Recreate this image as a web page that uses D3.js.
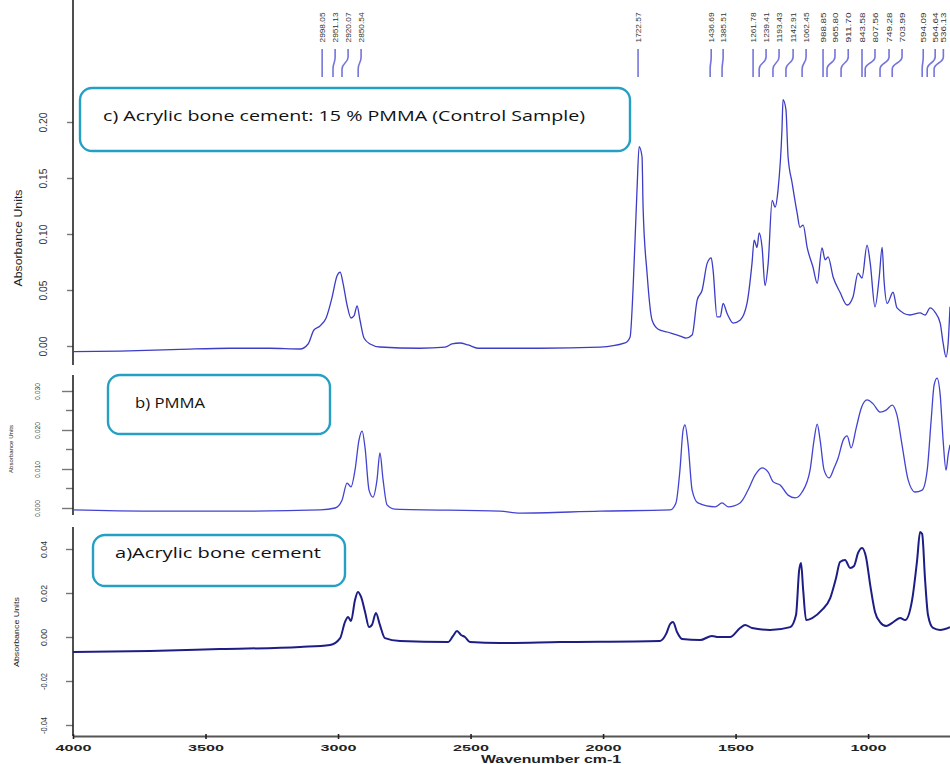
<!DOCTYPE html>
<html>
<head>
<meta charset="utf-8">
<script src="https://cdn.jsdelivr.net/npm/d3@7"></script>
<style>
  body { margin: 0; background: #fff; }
  svg { display: block; }
</style>
</head>
<body>
<div id="chart"></div>
<script>

// spectra as [wavenumber, absorbance]
var spectrumC = [
  [4000,-0.005],[3823,-0.0045],[3596,-0.003],[3408,-0.002],[3257,-0.002],[3143,-0.0027],[3113,0.0018],
  [3091,0.0143],[3068,0.0179],[3045,0.025],[3023,0.043],[3004,0.0625],[2992,0.066],[2981,0.056],
  [2966,0.0366],[2951,0.025],[2940,0.0268],[2928,0.0357],[2917,0.023],[2902,0.0071],[2879,0.0018],
  [2842,-0.0009],[2691,-0.002],[2596,-0.001],[2570,0.0018],[2540,0.0027],[2509,0.0009],[2472,-0.002],
  [2238,-0.002],[2011,-0.001],[1917,0.0027],[1898,0.008],[1887,0.05],[1872,0.139],[1864,0.178],
  [1853,0.169],[1849,0.124],[1834,0.065],[1815,0.023],[1792,0.015],[1758,0.0125],[1709,0.0089],
  [1687,0.0071],[1664,0.0098],[1645,0.041],[1626,0.05],[1607,0.074],[1592,0.0786],[1585,0.068],
  [1570,0.026],[1558,0.026],[1547,0.038],[1532,0.029],[1509,0.0205],[1483,0.023],[1457,0.038],
  [1438,0.074],[1430,0.0946],[1419,0.088],[1411,0.101],[1400,0.088],[1389,0.054],[1377,0.074],
  [1362,0.130],[1351,0.124],[1340,0.139],[1325,0.193],[1321,0.220],[1310,0.211],[1302,0.169],
  [1287,0.146],[1268,0.119],[1257,0.106],[1245,0.108],[1230,0.088],[1208,0.0705],[1192,0.056],
  [1174,0.0875],[1162,0.077],[1151,0.0795],[1132,0.0616],[1106,0.048],[1079,0.0366],[1057,0.0438],
  [1038,0.065],[1023,0.0607],[1004,0.090],[992,0.074],[974,0.035],[958,0.0616],[947,0.088],
  [940,0.059],[928,0.038],[906,0.048],[891,0.034],[842,0.0277],[804,0.0295],[785,0.0277],
  [766,0.034],[747,0.030],[728,0.0205],[717,0.0027],[706,-0.0098],[698,0.0027],[691,0.035]
];

var spectrumB = [
  [4000,-0.0005],[3709,-0.0008],[3332,-0.0008],[3068,-0.0005],[3011,0.0],[2985,0.002],[2966,0.0064],
  [2951,0.0054],[2936,0.0097],[2921,0.0174],[2909,0.0197],[2898,0.0154],[2883,0.0046],[2868,0.0028],
  [2853,0.0072],[2842,0.0141],[2830,0.0072],[2815,0.0008],[2785,-0.0003],[2389,-0.0008],[2313,-0.0013],
  [2011,-0.0008],[1747,-0.0005],[1725,0.0013],[1710,0.0097],[1698,0.020],[1691,0.0213],[1679,0.0162],
  [1664,0.0046],[1642,0.0013],[1577,0.0003],[1551,0.0013],[1528,0.0003],[1483,0.0013],[1453,0.0046],
  [1426,0.0085],[1400,0.0103],[1377,0.0092],[1358,0.0067],[1332,0.0059],[1302,0.0033],[1275,0.0026],
  [1249,0.0041],[1219,0.0097],[1204,0.0174],[1192,0.0215],[1181,0.0174],[1166,0.0097],[1147,0.0077],
  [1128,0.0103],[1113,0.0128],[1094,0.0174],[1079,0.0185],[1064,0.0154],[1045,0.0205],[1026,0.0256],
  [1004,0.0277],[981,0.0267],[955,0.0246],[932,0.0251],[909,0.0264],[891,0.0238],[872,0.0162],
  [849,0.0072],[823,0.0041],[796,0.0046],[777,0.0097],[762,0.0226],[751,0.0315],[740,0.0333],
  [728,0.029],[717,0.0174],[706,0.0097],[698,0.0136],[691,0.0162]
];

var spectrumA = [
  [4000,-0.0068],[3709,-0.0064],[3445,-0.0055],[3143,-0.0045],[3030,-0.0036],[2992,-0.0005],[2974,0.0068],
  [2962,0.0091],[2951,0.0073],[2936,0.0168],[2925,0.0205],[2913,0.0182],[2898,0.0114],[2883,0.0045],
  [2872,0.0055],[2857,0.0109],[2842,0.0055],[2823,-0.0005],[2766,-0.0018],[2585,-0.0023],[2566,0.0005],
  [2551,0.0027],[2536,0.0009],[2521,0.0],[2502,-0.0023],[2389,-0.0027],[2162,-0.0023],[1785,-0.0018],
  [1762,0.0014],[1747,0.0059],[1736,0.0068],[1721,0.0023],[1702,-0.0009],[1634,-0.0014],[1589,0.0005],
  [1566,0.0],[1521,0.0],[1483,0.0041],[1464,0.0055],[1438,0.0041],[1370,0.0032],[1294,0.0045],
  [1272,0.010],[1260,0.0305],[1253,0.0336],[1245,0.0214],[1234,0.0077],[1211,0.0086],[1174,0.0123],
  [1143,0.0177],[1121,0.0268],[1106,0.0341],[1087,0.035],[1068,0.0314],[1053,0.0323],[1038,0.0382],
  [1023,0.0405],[1008,0.0364],[992,0.0236],[974,0.0114],[955,0.0068],[932,0.005],[909,0.0064],
  [879,0.0086],[860,0.0077],[834,0.0168],[815,0.035],[804,0.0477],[796,0.0468],[785,0.0259],
  [774,0.010],[755,0.0041],[728,0.0032],[691,0.0045]
];

// peak annotations above spectrum c (text, label position, peak position on the axis)
var peakText = ["2998.05","2951.13","2920.07","2850.54","1722.57",
  "1436.69","1385.51","1261.78","1239.41","1193.43","1142.91","1062.45",
  "988.85","965.80","911.70","843.58","807.56","749.28","703.99",
  "594.09","564.64","536.13"];
var peakLabelAt = [3060,3011,2962,2913,1868,
  1592,1547,1434,1385,1336,1283,1234,
  1170,1125,1075,1023,974,921,872,
  792,747,716];
var peakAt = [3060,3019,2985,2924,1868,
  1596,1551,1434,1411,1359,1310,1249,
  1170,1155,1102,1023,1011,955,909,
  796,777,751];

var xTicks = [4000, 3500, 3000, 2500, 2000, 1500, 1000];
var cTicks = [0, 0.05, 0.10, 0.15, 0.20];
var bTicks = [0, 0.010, 0.020, 0.030];
var bMinor = [0.005, 0.015, 0.025];
var aTicks = [-0.04, -0.02, 0, 0.02, 0.04];

var boxLabels = ["c) Acrylic bone cement: 15 % PMMA (Control Sample)", "b) PMMA", "a)Acrylic bone cement"];

var width = 950, height = 764;

var svg = d3.select("#chart").append("svg")
  .attr("width", width)
  .attr("height", height)
  .style("font-family", "'Liberation Sans', Arial, sans-serif");

var x = d3.scaleLinear().domain([4000, 691]).range([73, 950]);

var panels = [
  { data: spectrumC, y: d3.scaleLinear().domain([0, 0.2]).range([346, 122]), top: 0, bottom: 365,
    ticks: cTicks, minor: [], fmt: d3.format(".2f"), tick: 6, off: 26, fs: 10, len: 20,
    color: "#3c3cc6", sw: 1.3, title: { x: 18, y: 238, fs: 10, len: 97 } },
  { data: spectrumB, y: d3.scaleLinear().domain([0, 0.03]).range([508, 391]), top: 375, bottom: 515,
    ticks: bTicks, minor: bMinor, fmt: d3.format(".3f"), tick: 11, off: 33, fs: 7, len: 17,
    color: "#4343d2", sw: 1.3, title: { x: 11, y: 449, fs: 6, len: 48 } },
  { data: spectrumA, y: d3.scaleLinear().domain([-0.04, 0.04]).range([725, 549]), top: 527, bottom: 736,
    ticks: aTicks, minor: [], fmt: function(v) { return d3.format(".2f")(v).replace("\u2212", "-"); },
    tick: 7, off: 26, fs: 9, len: 17, color: "#1d1d86", sw: 2, title: { x: 16, y: 632, fs: 8, len: 70 } }
];

panels.forEach(function(p, i) {
  svg.append("defs").append("clipPath")
    .attr("id", "clip" + i)
    .append("rect")
    .attr("x", 73).attr("y", p.top)
    .attr("width", width - 73).attr("height", p.bottom - p.top);

  var g = svg.append("g").attr("transform", "translate(73,0)");
  var axis = d3.axisLeft(p.y).tickValues(p.ticks).tickSize(p.tick).tickFormat(p.fmt);
  g.call(axis);
  g.select(".domain").remove();
  g.selectAll(".tick line").attr("stroke", "#777").attr("stroke-width", 1.4);
  g.selectAll(".tick text")
    .attr("transform", "rotate(-90)")
    .attr("x", 0).attr("y", -p.off).attr("dy", 0)
    .attr("text-anchor", "middle")
    .attr("textLength", p.len).attr("lengthAdjust", "spacingAndGlyphs")
    .style("font-size", p.fs + "px")
    .attr("fill", "#333");

  if (p.minor.length) {
    g.selectAll(".minor").data(p.minor).enter().append("line")
      .attr("x1", -7).attr("x2", 0)
      .attr("y1", function(d) { return p.y(d); })
      .attr("y2", function(d) { return p.y(d); })
      .attr("stroke", "#777").attr("stroke-width", 1.4);
  }

  // panel's own vertical axis line
  svg.append("line")
    .attr("x1", 73).attr("x2", 73)
    .attr("y1", p.top).attr("y2", p.bottom)
    .attr("stroke", "#222").attr("stroke-width", 1.6);

  svg.append("text")
    .attr("transform", "translate(" + p.title.x + "," + p.title.y + ") rotate(-90)")
    .attr("text-anchor", "middle")
    .attr("dy", "0.35em")
    .attr("textLength", p.title.len).attr("lengthAdjust", "spacingAndGlyphs")
    .style("font-size", p.title.fs + "px")
    .attr("fill", "#222")
    .text("Absorbance Units");

  var line = d3.line()
    .curve(d3.curveMonotoneX)
    .x(function(d) { return x(d[0]); })
    .y(function(d) { return p.y(d[1]); });

  svg.append("path")
    .datum(p.data)
    .attr("clip-path", "url(#clip" + i + ")")
    .attr("fill", "none")
    .attr("stroke", p.color)
    .attr("stroke-width", p.sw)
    .attr("stroke-linejoin", "round")
    .attr("d", line);
});

// bottom wavenumber axis
var xg = svg.append("g")
  .attr("transform", "translate(0,736)")
  .call(d3.axisBottom(x).tickValues(xTicks).tickFormat(d3.format("d"))
    .tickSizeInner(3).tickSizeOuter(0).tickPadding(6));
xg.select(".domain").attr("stroke", "#555").attr("stroke-width", 2.2);
xg.selectAll(".tick line").attr("stroke", "#222").attr("stroke-width", 1.6).attr("y1", -2);
xg.selectAll(".tick text")
  .style("font-size", "9px").style("font-weight", "bold")
  .attr("fill", "#222")
  .attr("textLength", 36).attr("lengthAdjust", "spacingAndGlyphs");

svg.append("text")
  .attr("x", 551).attr("y", 763)
  .attr("text-anchor", "middle")
  .attr("textLength", 140).attr("lengthAdjust", "spacingAndGlyphs")
  .style("font-size", "11px").style("font-weight", "bold")
  .attr("fill", "#222")
  .text("Wavenumber cm-1");

// peak pick labels
var peaks = svg.append("g").attr("clip-path", "url(#clip0)");
peakText.forEach(function(t, i) {
  var tx = x(peakLabelAt[i]), bx = x(peakAt[i]);
  peaks.append("path")
    .attr("d", "M" + tx + ",49 V57 C" + tx + ",63 " + bx + ",63 " + bx + ",69 V77")
    .attr("fill", "none")
    .attr("stroke", "#5c5cd6")
    .attr("stroke-width", 1.6)
    .attr("opacity", 0.85);
  peaks.append("text")
    .attr("transform", "translate(" + tx + ",27.5) rotate(-90)")
    .attr("text-anchor", "middle")
    .attr("dy", "0.35em")
    .attr("textLength", 30).attr("lengthAdjust", "spacingAndGlyphs")
    .style("font-size", "8px")
    .attr("fill", "#333")
    .text(t);
});

// labelled boxes
var boxes = [
  { x: 80, y: 88, w: 550, h: 63, tx: 103, ty: 121, len: 482 },
  { x: 108, y: 375, w: 222, h: 59, tx: 135, ty: 408, len: 70 },
  { x: 93, y: 535, w: 252, h: 51, tx: 115, ty: 558, len: 206 }
];
boxes.forEach(function(b, i) {
  svg.append("rect")
    .attr("x", b.x).attr("y", b.y)
    .attr("width", b.w).attr("height", b.h)
    .attr("rx", 12).attr("ry", 12)
    .attr("fill", "#fff")
    .attr("stroke", "#25a0c4")
    .attr("stroke-width", 2.4);
  svg.append("text")
    .attr("x", b.tx).attr("y", b.ty)
    .attr("textLength", b.len).attr("lengthAdjust", "spacingAndGlyphs")
    .style("font-family", "'Open Sans', sans-serif")
    .style("font-size", "15px")
    .attr("fill", "#111")
    .text(boxLabels[i]);
});

</script>
</body>
</html>
